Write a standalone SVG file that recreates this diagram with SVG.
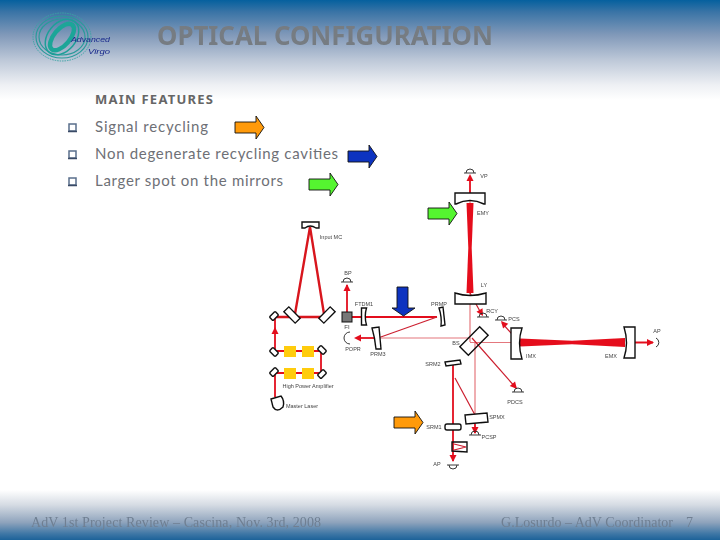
<svg xmlns="http://www.w3.org/2000/svg" width="720" height="540" viewBox="0 0 720 540">
<style>
.lab{font-family:"Liberation Sans",Arial,sans-serif;font-size:5.500px;fill:#444;text-anchor:middle}
.body{font-family:"Lato",sans-serif;font-size:15px;fill:#6e7076}
.foot{font-family:"Liberation Serif",serif;font-size:14px;fill:#6f7f92}
.m{fill:#fff;stroke:#111;stroke-width:1.400}
.r{stroke:#e3101f;fill:none;stroke-width:1.800}
.th{stroke:#d8141f;fill:none;stroke-width:2.400}
.p{stroke:#e4777d;fill:none;stroke-width:1.200}
.d{stroke:#cc2030;fill:none;stroke-width:1.200}
.det{fill:none;stroke:#222;stroke-width:.9}
.y{fill:#ffcc11}
.bul{fill:#fff;stroke:#5a6f8c;stroke-width:1.500}
.ar{stroke:#111;stroke-width:.9}
.soft{filter:url(#soft)}
</style>
<defs>
<filter id="soft" x="-5%" y="-5%" width="110%" height="110%"><feGaussianBlur stdDeviation="0.35"/></filter>
<linearGradient id="t" x1="0" y1="0" x2="0" y2="1">
<stop offset="0" stop-color="#05609e"/><stop offset=".12" stop-color="#3a74a6"/><stop offset=".35" stop-color="#8199b9"/><stop offset=".6" stop-color="#bdc8d8"/><stop offset=".85" stop-color="#eef0f4"/><stop offset="1" stop-color="#fff"/>
</linearGradient>
<linearGradient id="b" x1="0" y1="0" x2="0" y2="1">
<stop offset="0" stop-color="#fff"/><stop offset=".3" stop-color="#d5dbe3"/><stop offset=".65" stop-color="#8ea3bc"/><stop offset=".88" stop-color="#3d76a5"/><stop offset="1" stop-color="#1c6299"/>
</linearGradient>
<path id="ah" d="M0 0L-3.500 7H3.500Z" fill="#e3101f"/>
<path id="bigarrow" d="M0 6H21V0L29 11.500L21 23V17H0Z"/>
<path id="dt" d="M-6 0H6M-4 0A4 4 0 0 1 4 0" class="det"/>
<rect id="sm" x="-4" y="-2.500" width="8" height="5" rx="1" class="m"/>
<rect id="sq" x="-8" y="-3.500" width="16" height="7" class="m"/>
</defs>
<rect width="720" height="540" fill="#fff"/>
<rect width="720" height="100" fill="url(#t)"/>
<rect y="490" width="720" height="50" fill="url(#b)"/>

<g id="logo" fill="none" class="soft">
<ellipse cx="62" cy="37" rx="29" ry="24" stroke="#3aa3a3" stroke-width="1" stroke-dasharray="1.500 1"/>
<ellipse cx="62" cy="37" rx="26" ry="21" stroke="#2a9a9a" stroke-width="1.200"/>
<ellipse cx="62" cy="37" rx="23" ry="18" stroke="#2a9a9a" stroke-width="1.200"/>
<ellipse cx="62" cy="37" rx="20" ry="14" transform="rotate(-50 62 37)" stroke="#1f9f98" stroke-width="1.500"/>
<ellipse cx="62" cy="37" rx="16" ry="8" transform="rotate(-50 62 37)" stroke="#1fa598" stroke-width="4.500"/>
<text x="71" y="42" font-family="Liberation Sans,sans-serif" font-size="7.500" font-style="italic" fill="#1a2a8c" textLength="39" lengthAdjust="spacingAndGlyphs">Advanced</text>
<text x="88" y="54" font-family="Liberation Sans,sans-serif" font-size="7.500" font-style="italic" fill="#1a2a8c" textLength="22" lengthAdjust="spacingAndGlyphs">Virgo</text>
</g>

<text id="title" class="soft" x="157" y="45" font-family="Noto Sans,sans-serif" font-weight="700" font-size="27" fill="#767b82" textLength="336" lengthAdjust="spacingAndGlyphs">OPTICAL CONFIGURATION</text>

<g id="features">
<text x="95" y="104" font-family="Noto Sans,sans-serif" font-weight="700" font-size="13" fill="#666" textLength="118">MAIN FEATURES</text>
<path class="bul" d="M69 124H76V131H69Z"/><path d="M68 131.500H77" stroke="#3a4a66" stroke-width="1.500"/>
<text class="body" x="95" y="132" textLength="113">Signal recycling</text>
<path class="bul" d="M69 151H76V158H69Z"/><path d="M68 158.500H77" stroke="#3a4a66" stroke-width="1.500"/>
<text class="body" x="95" y="159" textLength="243">Non degenerate recycling cavities</text>
<path class="bul" d="M69 178H76V185H69Z"/><path d="M68 185.500H77" stroke="#3a4a66" stroke-width="1.500"/>
<text class="body" x="95" y="186" textLength="188">Larger spot on the mirrors</text>
</g>

<g id="connectors" class="soft">
<path class="th" d="M295 314L310 227L324 314M275 317H327"/>
<path class="r" d="M275 352V317M275 373V397M275 351H321V373H275M347 312V285M350 317H437"/>
<path class="d" d="M437 317L378 338"/>
<path class="r" d="M378 338H356"/>
<path class="p" d="M378 338H470V190M470 342.500H520M475 342V414M470 342V305"/>
<path class="r" d="M470 200V180M635 342.500H653"/>
<path class="d" d="M470 293L482 315M472 338L516 388M519 342L502 323M455 378L475 415"/>
<path class="r" d="M453 365V461M475 423V433"/>
<path d="M466.500 203H473.500L471.700 248L473.500 293H466.500L468.300 248Z" fill="#e5101c"/>
<path d="M520 338.500L572 340.800L625 338V347L572 344.200L520 346.500Z" fill="#e5101c"/>
<path class="d" d="M454 444L466 447L454 450"/>
<use href="#ah" x="275" y="327"/>
<use href="#ah" x="347" y="284"/>
<use href="#ah" transform="translate(354 338) rotate(-90)"/>
<use href="#ah" x="470" y="174"/>
<use href="#ah" transform="translate(483 316) rotate(150)"/>
<use href="#ah" transform="translate(501 321) rotate(-42)"/>
<use href="#ah" transform="translate(517 389) rotate(139)"/>
<use href="#ah" transform="translate(654 342.500) rotate(90)"/>
<use href="#ah" transform="translate(475 434) rotate(180)"/>
<use href="#ah" transform="translate(453 462) rotate(180)"/>
</g>

<g class="soft">
<g id="input-mc"><path class="m" d="M302 222H319V228H316Q310 224 305 228H302Z"/><text class="lab" x="331" y="239">Input MC</text></g>
<g id="mc-mirrors">
<use href="#sq" transform="translate(292 315) rotate(45)"/>
<use href="#sq" transform="translate(327 315) rotate(-45)"/>
<use href="#sm" transform="translate(274 316) rotate(-45)"/>
<use href="#sm" transform="translate(274 352) rotate(45)"/>
<use href="#sm" transform="translate(322 350) rotate(45)"/>
<use href="#sm" transform="translate(274 372) rotate(-45)"/>
<use href="#sm" transform="translate(322 374) rotate(-45)"/>
</g>
<g id="amp">
<rect class="y" x="284" y="346" width="12" height="11"/><rect class="y" x="302" y="346" width="12" height="11"/>
<rect class="y" x="284" y="368" width="12" height="11"/><rect class="y" x="302" y="368" width="12" height="11"/>
<text class="lab" x="308" y="388">High Power Amplifier</text>
</g>
<g id="laser"><path class="m" d="M271 399L281 396Q285 401 283 407Q277 413 273 407Z"/><text class="lab" x="302" y="408">Master Laser</text></g>
<g id="fi"><rect x="342" y="312" width="10" height="10" fill="#777" stroke="#111"/><text class="lab" x="347" y="329" style="font-size:6px">FI</text></g>
<g id="bp"><use href="#dt" x="347" y="282"/><text class="lab" x="348" y="275">BP</text></g>
<g id="ftm"><path class="m" d="M361.500 308H366.500Q364 316 366.500 325H361.500Z"/><text class="lab" x="364" y="306">FTDM1</text></g>
<g id="prm2"><path class="m" d="M439 308L443 307L445 325L441 326Q442 317 439 308Z"/><text class="lab" x="439" y="306">PRMP</text></g>
<g id="prm3"><path class="m" d="M372 328L379 327L381 349L376 349Q375 338 372 328Z"/><text class="lab" x="378" y="356">PRM3</text></g>
<g id="popr"><path class="det" d="M350 332A6 6 0 0 0 350 344"/><text class="lab" x="353" y="351">POPR</text></g>
<g id="vp"><use href="#dt" x="470" y="173"/><text class="lab" x="484" y="178">VP</text></g>
<g id="emy"><path class="m" d="M455 193H485V204H484Q470 197 456 204H455Z"/><text class="lab" x="483" y="215">EMY</text></g>
<g id="imy"><path class="m" d="M455 293Q470 298 486 293V304H455Z"/><text class="lab" x="484" y="287">LY</text></g>
<g id="rcy"><use href="#dt" x="483" y="317"/><text class="lab" x="492" y="313">RCY</text></g>
<g id="pcs"><use href="#dt" x="501" y="320"/><text class="lab" x="514" y="321">PCS</text></g>
<g id="bs"><rect class="m" x="-14" y="-6" width="28" height="12" style="fill:none" transform="translate(474 341) rotate(-45)"/><text class="lab" x="456" y="345">BS</text></g>
<g id="imx"><path class="m" d="M511 328H522Q517 343 522 359H511Z"/><text class="lab" x="531" y="358">IMX</text></g>
<g id="emx"><path class="m" d="M624 327H635V358H624Q629 343 624 327Z"/><text class="lab" x="611" y="358">EMX</text></g>
<g id="ap-top"><path class="det" d="M656 338A5 5 0 0 1 656 347"/><text class="lab" x="657" y="333">AP</text></g>
<g id="pdcs"><use href="#dt" x="518" y="392"/><text class="lab" x="515" y="404">PDCS</text></g>
<g id="srm2"><path class="m" d="M445 362L460 360L461 364L446 366Z"/><text class="lab" x="433" y="366">SRM2</text></g>
<g id="spmx"><path class="m" d="M465 415L487 413L488 422L466 424Z"/><text class="lab" x="497" y="419">SPMX</text></g>
<g id="pcsp"><use href="#dt" x="475" y="435"/><text class="lab" x="489" y="439">PCSP</text></g>
<g id="srm1"><rect class="m" x="445" y="424" width="16" height="6" rx="2"/><text class="lab" x="434" y="429">SRM1</text></g>
<g id="omc"><path class="m" style="fill:none" d="M452 442L467 442V452L452 451Z"/></g>
<g id="ap"><path class="det" d="M449 465A4 4 0 0 0 457 465M447 465H459"/><text class="lab" x="437" y="466">AP</text></g>
</g>

<g id="markers">
<use href="#bigarrow" x="235" y="116" fill="#ff9a0a" class="ar"/>
<use href="#bigarrow" x="348" y="145" fill="#0d33c0" class="ar"/>
<use href="#bigarrow" x="309" y="173" fill="#55f530" class="ar"/>
<use href="#bigarrow" x="428" y="202" fill="#55f530" class="ar"/>
<use href="#bigarrow" x="394" y="411" fill="#ff9a0a" class="ar"/>
<path d="M397 287H408V308H415L403.500 316L392 308H397Z" fill="#0d33c0" class="ar"/>
</g>

<g id="footer" class="soft">
<text class="foot" x="31" y="527" textLength="290">AdV 1st  Project Review – Cascina, Nov. 3rd, 2008</text>
<text class="foot" x="501" y="527" textLength="172">G.Losurdo – AdV Coordinator</text>
<text class="foot" x="686" y="527">7</text>
</g>
</svg>
